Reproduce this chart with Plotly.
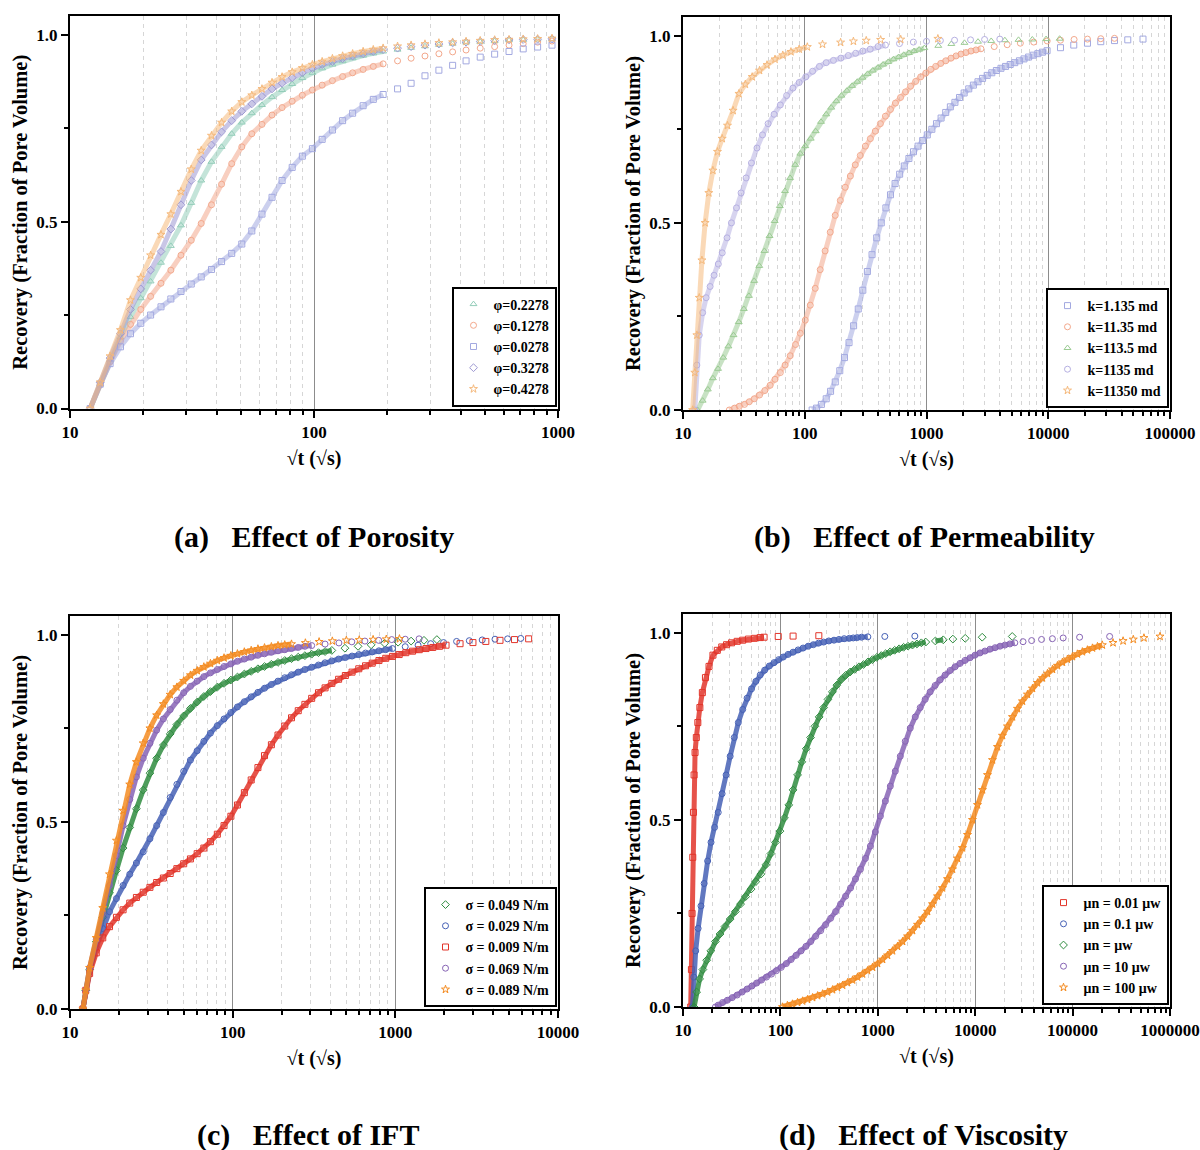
import math
import plotly.graph_objects as go

FONT = "Liberation Serif"
W, H = 1200, 1150

# ---------------- (a) Effect of Porosity ----------------
A_SQRT_T = [12.1, 13.3, 14.6, 16.1, 17.7, 19.5, 21.4, 23.6, 25.9, 28.5, 31.4, 34.5, 38.0, 41.8, 46.0,
            50.6, 55.6, 61.2, 67.3, 74.0, 81.4, 89.6, 98.5, 108, 119, 131, 144, 159, 175, 192,
            220, 250, 285, 325, 370, 420, 480, 550, 630, 720, 825, 945]
A_PHI_2278 = [0, 0.065, 0.13, 0.19, 0.245, 0.295, 0.34, 0.39, 0.435, 0.49, 0.55, 0.61, 0.66, 0.70, 0.735,
              0.765, 0.79, 0.812, 0.833, 0.852, 0.868, 0.884, 0.898, 0.91, 0.92, 0.929, 0.937, 0.944, 0.95, 0.955,
              0.96, 0.965, 0.969, 0.973, 0.976, 0.979, 0.981, 0.983, 0.985, 0.986, 0.987, 0.988]
A_PHI_1278 = [0, 0.065, 0.125, 0.18, 0.225, 0.265, 0.30, 0.335, 0.37, 0.41, 0.45, 0.495, 0.545, 0.60, 0.655,
              0.70, 0.735, 0.76, 0.785, 0.805, 0.822, 0.838, 0.852, 0.865, 0.877, 0.888, 0.898, 0.907, 0.915, 0.922,
              0.93, 0.937, 0.943, 0.949, 0.954, 0.959, 0.964, 0.968, 0.972, 0.976, 0.98, 0.983]
A_PHI_0278 = [0, 0.065, 0.12, 0.165, 0.20, 0.228, 0.25, 0.272, 0.293, 0.313, 0.333, 0.352, 0.372, 0.393, 0.415,
              0.44, 0.475, 0.52, 0.565, 0.61, 0.645, 0.675, 0.695, 0.72, 0.745, 0.77, 0.79, 0.81, 0.827, 0.84,
              0.855, 0.87, 0.89, 0.905, 0.918, 0.93, 0.94, 0.948, 0.955, 0.962, 0.967, 0.972]
A_PHI_3278 = [0, 0.07, 0.135, 0.2, 0.265, 0.32, 0.37, 0.42, 0.48, 0.545, 0.61, 0.665, 0.705, 0.74, 0.77,
              0.795, 0.815, 0.835, 0.855, 0.87, 0.885, 0.898, 0.91, 0.92, 0.928, 0.936, 0.943, 0.949, 0.955, 0.96,
              0.964, 0.968, 0.972, 0.975, 0.978, 0.98, 0.982, 0.984, 0.986, 0.987, 0.988, 0.989]
A_PHI_4278 = [0, 0.07, 0.14, 0.21, 0.29, 0.35, 0.41, 0.465, 0.52, 0.58, 0.64, 0.69, 0.73, 0.765, 0.795,
              0.82, 0.838, 0.855, 0.872, 0.887, 0.9, 0.911, 0.92, 0.928, 0.936, 0.943, 0.949, 0.955, 0.96, 0.964,
              0.969, 0.972, 0.975, 0.978, 0.98, 0.982, 0.984, 0.986, 0.987, 0.988, 0.989, 0.99]

# ---------------- (b) Effect of Permeability ----------------
B_K1_X = [115, 125, 137, 150, 163, 178, 194, 212, 231, 252, 275, 300, 327, 357, 390, 425, 464, 506, 552, 602,
          657, 717, 782, 853, 930, 1015, 1107, 1208, 1318, 1438, 1570, 1712, 1868, 2038, 2224, 2426, 2647, 2888,
          3151, 3438, 3750, 4090, 4460, 4870, 5310, 5800, 6320, 6900, 7530, 8210, 8960, 9780,
          12600, 16200, 21000, 27000, 35000, 45000, 60000]
B_K1_Y = [0, 0.005, 0.015, 0.03, 0.05, 0.075, 0.105, 0.14, 0.18, 0.225, 0.27, 0.32, 0.37, 0.415, 0.46, 0.5,
          0.54, 0.575, 0.605, 0.63, 0.652, 0.672, 0.69, 0.705, 0.72, 0.735, 0.75, 0.765, 0.78, 0.795, 0.81, 0.822,
          0.835, 0.847, 0.858, 0.868, 0.877, 0.886, 0.894, 0.901, 0.907, 0.913, 0.918, 0.923, 0.928, 0.933, 0.938,
          0.943, 0.948, 0.952, 0.956, 0.96,
          0.968, 0.975, 0.98, 0.984, 0.987, 0.989, 0.991]
B_K11_X = [24, 26.5, 29, 32, 35, 38.5, 42.5, 47, 52, 57, 63, 69, 76, 84, 92, 101, 111, 122, 134, 147,
           162, 178, 196, 215, 237, 260, 286, 315, 346, 380, 418, 460, 506, 556, 612, 673, 740, 815, 896, 986,
           1085, 1190, 1310, 1440, 1590, 1750, 1920, 2110, 2320, 2550, 2800,
           3600, 4600, 5900, 7600, 9800, 12600, 16300, 21000, 27000, 35000]
B_K11_Y = [0, 0.005, 0.01, 0.015, 0.022, 0.03, 0.04, 0.052, 0.066, 0.082, 0.1, 0.12, 0.145, 0.175, 0.205,
           0.24, 0.28, 0.325, 0.375, 0.425, 0.475, 0.52, 0.56, 0.595, 0.625, 0.655, 0.68, 0.705, 0.725, 0.745,
           0.765, 0.785, 0.803, 0.82, 0.835, 0.85, 0.865, 0.878, 0.89, 0.9, 0.91, 0.918, 0.926, 0.933, 0.94,
           0.946, 0.951, 0.955, 0.959, 0.962, 0.965,
           0.971, 0.976, 0.98, 0.983, 0.986, 0.988, 0.99, 0.991, 0.992, 0.993]
B_K113_X = [13.2, 14.5, 16, 17.6, 19.4, 21.4, 23.6, 26, 28.7, 31.6, 34.8, 38.4, 42.3, 46.6, 51.4, 56.6, 62.4,
            68.8, 75.8, 83.5, 92, 101, 112, 123, 136, 150, 165, 182, 200, 222, 245, 270, 298, 328, 362, 400,
            440, 485, 535, 590, 650, 717, 790, 870, 960,
            1250, 1600, 2050, 2650, 3400, 4400, 5700, 7400, 9600, 12400]
B_K113_Y = [0, 0.025, 0.055, 0.085, 0.11, 0.14, 0.17, 0.2, 0.235, 0.27, 0.305, 0.345, 0.385, 0.425, 0.465,
            0.505, 0.545, 0.585, 0.62, 0.655, 0.685, 0.705, 0.725, 0.745, 0.77, 0.79, 0.808, 0.825, 0.84, 0.853,
            0.866, 0.877, 0.888, 0.898, 0.907, 0.915, 0.923, 0.93, 0.937, 0.943, 0.949, 0.954, 0.959, 0.963, 0.967,
            0.973, 0.978, 0.981, 0.984, 0.986, 0.988, 0.989, 0.99, 0.991, 0.992]
B_K1135_X = [12.5, 13, 13.6, 14.5, 15.5, 16.7, 18, 19.5, 21, 23, 25, 27.5, 30, 33, 36.5, 40.5, 45, 50, 56, 63,
             71, 80, 90, 102, 116, 132, 150, 172, 198, 228, 262, 300, 345, 400, 460,
             600, 780, 1000, 1300, 1700, 2300, 3000, 4000]
B_K1135_Y = [0, 0.12, 0.2, 0.26, 0.3, 0.33, 0.36, 0.39, 0.42, 0.46, 0.5, 0.54, 0.58, 0.62, 0.66, 0.70, 0.735,
             0.765, 0.79, 0.815, 0.84, 0.86, 0.875, 0.89, 0.905, 0.918, 0.928, 0.934, 0.94, 0.947, 0.953, 0.959,
             0.964, 0.971, 0.975,
             0.979, 0.983, 0.985, 0.987, 0.988, 0.989, 0.99, 0.991]
B_K11350_X = [12.0, 12.5, 13.0, 13.6, 14.3, 15.2, 16.3, 17.6, 19.2, 21, 23.2, 25.8, 28.8, 32.5, 37, 42.5, 49,
              57, 66, 77, 90, 105,
              140, 197, 251, 320, 420, 614, 1240]
B_K11350_Y = [0, 0.1, 0.2, 0.3, 0.4, 0.5, 0.58, 0.64, 0.69, 0.725, 0.76, 0.8, 0.845, 0.87, 0.89, 0.907, 0.922,
              0.937, 0.948, 0.957, 0.964, 0.97,
              0.977, 0.982, 0.985, 0.987, 0.989, 0.99, 0.992]

# ---------------- (c) Effect of IFT ----------------
C_S049_X = [12, 12.5, 13.2, 14.5, 15.9, 17.5, 19.3, 21.2, 23.3, 25.6, 28.2, 31, 34.1, 37.5, 41.3, 45.4, 50, 55,
            60.5, 66.5, 73, 80.5, 88.5, 97.5, 107, 118, 130, 143, 157, 173, 190, 209, 230, 253, 278, 306, 337,
            370, 407,
            490, 590, 710, 860, 1040, 1250, 1500, 1800]
C_S049_Y = [0, 0.05, 0.105, 0.18, 0.245, 0.31, 0.37, 0.43, 0.485, 0.535, 0.585, 0.63, 0.67, 0.705, 0.735, 0.76,
            0.783, 0.803, 0.82, 0.835, 0.848, 0.86, 0.87, 0.879, 0.887, 0.895, 0.902, 0.909, 0.915, 0.921, 0.926,
            0.931, 0.936, 0.94, 0.944, 0.948, 0.952, 0.955, 0.958,
            0.964, 0.969, 0.973, 0.977, 0.98, 0.983, 0.985, 0.987]
C_S029_X = [12, 12.5, 13.2, 14.5, 15.9, 17.5, 19.3, 21.2, 23.3, 25.6, 28.2, 31, 34.1, 37.5, 41.3, 45.4, 50, 55,
            60.5, 66.5, 73, 80.5, 88.5, 97.5, 107, 118, 130, 143, 157, 173, 190, 209, 230, 253, 278, 306, 337,
            370, 407, 448, 493, 542, 596, 656, 721, 793, 873, 960,
            1150, 1380, 1650, 1980, 2380, 2850, 3420, 4100, 4900, 5900]
C_S029_Y = [0, 0.05, 0.1, 0.165, 0.215, 0.26, 0.295, 0.33, 0.36, 0.39, 0.42, 0.455, 0.49, 0.525, 0.565, 0.6,
            0.635, 0.665, 0.69, 0.715, 0.737, 0.757, 0.775, 0.792, 0.807, 0.821, 0.834, 0.846, 0.857, 0.867, 0.876,
            0.885, 0.893, 0.9, 0.907, 0.913, 0.919, 0.925, 0.93, 0.935, 0.939, 0.943, 0.947, 0.951, 0.954, 0.957,
            0.96, 0.963,
            0.968, 0.972, 0.976, 0.979, 0.982, 0.984, 0.986, 0.988, 0.989, 0.99]
C_S009_X = [12, 12.5, 13.2, 14.5, 15.9, 17.5, 19.3, 21.2, 23.3, 25.6, 28.2, 31, 34.1, 37.5, 41.3, 45.4, 50, 55,
            60.5, 66.5, 73, 80.5, 88.5, 97.5, 107, 118, 130, 143, 157, 173, 190, 209, 230, 253, 278, 306, 337,
            370, 407, 448, 493, 542, 596, 656, 721, 793, 873, 960, 1056, 1160, 1276, 1404, 1544, 1700, 1870, 2050,
            2500, 3000, 3600, 4400, 5400, 6600]
C_S009_Y = [0, 0.05, 0.095, 0.15, 0.19, 0.22, 0.245, 0.265, 0.283, 0.298, 0.312, 0.325, 0.338, 0.35, 0.362,
            0.375, 0.388, 0.401, 0.415, 0.43, 0.447, 0.467, 0.49, 0.515, 0.545, 0.578, 0.612, 0.645, 0.677, 0.706,
            0.732, 0.756, 0.778, 0.797, 0.814, 0.83, 0.845, 0.858, 0.87, 0.881, 0.891, 0.9, 0.909, 0.917, 0.924,
            0.931, 0.937, 0.942, 0.947, 0.952, 0.956, 0.96, 0.963, 0.966, 0.969, 0.972,
            0.976, 0.979, 0.982, 0.985, 0.987, 0.989]
C_S069_X = [12, 12.5, 13.2, 14.5, 15.9, 17.5, 19.3, 21.2, 23.3, 25.6, 28.2, 31, 34.1, 37.5, 41.3, 45.4, 50, 55,
            60.5, 66.5, 73, 80.5, 88.5, 97.5, 107, 118, 130, 143, 157, 173, 190, 209, 230, 253, 278, 306,
            370, 450, 540, 650, 790, 950, 1150, 1400]
C_S069_Y = [0, 0.05, 0.11, 0.185, 0.255, 0.33, 0.41, 0.49, 0.56, 0.62, 0.67, 0.71, 0.745, 0.775, 0.8, 0.825,
            0.845, 0.862, 0.876, 0.888, 0.898, 0.907, 0.915, 0.922, 0.929, 0.935, 0.94, 0.945, 0.949, 0.953, 0.957,
            0.96, 0.963, 0.966, 0.969, 0.971,
            0.975, 0.978, 0.981, 0.983, 0.985, 0.987, 0.988, 0.989]
C_S089_X = [12, 12.5, 13.2, 14.5, 15.9, 17.5, 19.3, 21.2, 23.3, 25.6, 28.2, 31, 34.1, 37.5, 41.3, 45.4, 50, 55,
            60.5, 66.5, 73, 80.5, 88.5, 97.5, 107, 118, 130, 143, 157, 173, 190, 209, 230,
            280, 340, 410, 500, 600, 730, 880, 1060]
C_S089_Y = [0, 0.05, 0.11, 0.19, 0.27, 0.36, 0.45, 0.53, 0.6, 0.66, 0.71, 0.75, 0.785, 0.815, 0.84, 0.86,
            0.877, 0.892, 0.904, 0.914, 0.923, 0.931, 0.938, 0.944, 0.949, 0.954, 0.958, 0.962, 0.965, 0.968,
            0.971, 0.973, 0.975,
            0.978, 0.981, 0.983, 0.985, 0.986, 0.987, 0.988, 0.989]

# ---------------- (d) Effect of Viscosity ----------------
D_M001_X = [12, 12.2, 12.4, 12.6, 12.8, 13.0, 13.3, 13.7, 14.2, 14.9, 15.8, 17, 18.5, 20.3, 22.5, 25, 28, 31.5,
            36, 41, 47, 54, 62, 68,
            95, 135, 248]
D_M001_Y = [0, 0.1, 0.25, 0.4, 0.52, 0.62, 0.68, 0.72, 0.76, 0.8, 0.84, 0.88, 0.91, 0.94, 0.953, 0.962, 0.968,
            0.973, 0.977, 0.98, 0.983, 0.985, 0.987, 0.988,
            0.99, 0.991, 0.992]
D_M01_X = [12.5, 12.9, 13.5, 14.3, 15.3, 16.5, 17.9, 19.4, 21.1, 23, 25.2, 27.7, 30.5, 33.6, 37, 41, 45.5, 50.5,
           56, 62, 69, 77, 86, 96, 107, 120, 135, 152, 171, 193, 218, 246, 278, 314, 355, 400, 452, 510, 560,
           615, 680, 790,
           1180, 2400]
D_M01_Y = [0, 0.08, 0.15, 0.21, 0.27, 0.33, 0.39, 0.44, 0.48, 0.52, 0.57, 0.62, 0.67, 0.72, 0.76, 0.795, 0.825,
           0.85, 0.87, 0.887, 0.9, 0.911, 0.92, 0.928, 0.935, 0.942, 0.948, 0.954, 0.959, 0.964, 0.968, 0.972,
           0.975, 0.978, 0.98, 0.982, 0.984, 0.985, 0.986, 0.987, 0.988, 0.989,
           0.99, 0.991]
D_M1_X = [13, 13.8, 14.8, 16, 17.5, 19.3, 21.5, 24, 27, 30.5, 34.5, 39, 44, 50, 56, 63, 71, 80, 89, 99, 110,
          122, 135, 150, 166, 184, 204, 226, 250, 278, 308, 342, 380, 422, 468, 520, 578, 642, 713, 792, 880, 977,
          1085, 1205, 1340, 1490, 1655, 1840, 2045, 2270, 2520, 2800, 3110,
          3900, 4700, 5900, 7900, 11800, 24000]
D_M1_Y = [0, 0.04, 0.075, 0.1, 0.125, 0.15, 0.175, 0.195, 0.215, 0.235, 0.255, 0.275, 0.295, 0.315, 0.335,
          0.355, 0.38, 0.41, 0.44, 0.47, 0.505, 0.54, 0.58, 0.62, 0.655, 0.69, 0.72, 0.75, 0.775, 0.8, 0.822,
          0.842, 0.86, 0.875, 0.886, 0.895, 0.902, 0.909, 0.915, 0.922, 0.928, 0.934, 0.939, 0.944, 0.949, 0.953,
          0.957, 0.961, 0.964, 0.967, 0.97, 0.973, 0.975,
          0.978, 0.981, 0.983, 0.985, 0.988, 0.99]
D_M10_X = [21.5, 23, 25.5, 28.5, 32, 36, 40.5, 45.5, 51, 57, 64, 72, 81, 91, 102, 115, 129, 145, 163, 183, 205,
           230, 259, 291, 328, 369, 415, 467, 525, 590, 664, 747, 840, 945, 1063, 1196, 1345, 1513, 1702, 1915,
           2154, 2423, 2726, 3066, 3450, 3880, 4366, 4911, 5525, 6215, 6992, 7866, 8849, 9955, 11200, 12600,
           14200, 16000, 18000, 20200, 22700, 25500,
           31000, 38000, 48000, 62000, 80000, 118000, 240000]
D_M10_Y = [0, 0.005, 0.012, 0.018, 0.025, 0.032, 0.04, 0.048, 0.056, 0.064, 0.072, 0.08, 0.088, 0.097, 0.106,
           0.116, 0.127, 0.138, 0.15, 0.162, 0.175, 0.189, 0.204, 0.22, 0.237, 0.255, 0.275, 0.296, 0.318, 0.342,
           0.368, 0.397, 0.43, 0.468, 0.51, 0.55, 0.59, 0.63, 0.67, 0.71, 0.745, 0.775, 0.8, 0.822, 0.842, 0.859,
           0.874, 0.887, 0.899, 0.909, 0.918, 0.926, 0.933, 0.94, 0.946, 0.951, 0.956, 0.96, 0.964, 0.967, 0.97,
           0.973,
           0.976, 0.979, 0.982, 0.984, 0.986, 0.988, 0.99]
D_M100_X = [105, 118, 133, 150, 169, 190, 214, 241, 271, 305, 343, 386, 435, 489, 551, 620, 697, 785, 883, 994,
            1119, 1259, 1417, 1595, 1795, 2020, 2273, 2558, 2879, 3240, 3646, 4103, 4617, 5196, 5848, 6581, 7406,
            8335, 9380, 10556, 11880, 13370, 15046, 16933, 19056, 21446, 24135, 27161, 30566, 34400, 38700, 43600,
            49000, 55200, 62100, 69900, 78600, 88500, 99600, 112000, 126000, 142000, 160000, 180000, 202000,
            260000, 330000, 420000, 540000, 790000]
D_M100_Y = [0, 0.004, 0.008, 0.012, 0.016, 0.02, 0.025, 0.03, 0.035, 0.04, 0.046, 0.052, 0.058, 0.065, 0.072,
            0.08, 0.088, 0.097, 0.106, 0.116, 0.127, 0.138, 0.15, 0.162, 0.175, 0.189, 0.204, 0.22, 0.237, 0.255,
            0.275, 0.296, 0.318, 0.342, 0.368, 0.397, 0.425, 0.46, 0.5, 0.54, 0.58, 0.62, 0.66, 0.695, 0.725, 0.75,
            0.775, 0.797, 0.817, 0.835, 0.851, 0.866, 0.879, 0.891, 0.902, 0.912, 0.921, 0.929, 0.936, 0.943,
            0.949, 0.954, 0.959, 0.963, 0.967,
            0.973, 0.978, 0.982, 0.986, 0.99]

# ---------------- layout geometry (pixels in the 1200x1150 page) ----------------
# left, right, top, bottom of each plotting area, decades shown on x
PANELS = {
    "a": dict(box=(70, 558, 16, 408.5), dec=(1, 3), ax="", legend="legend"),
    "b": dict(box=(683, 1170, 17, 410), dec=(1, 5), ax="2", legend="legend2"),
    "c": dict(box=(70, 558, 616, 1009), dec=(1, 4), ax="3", legend="legend3"),
    "d": dict(box=(683, 1170, 614, 1007), dec=(1, 6), ax="4", legend="legend4"),
}
Y_TOP = 1.05
GAP_PX = {"a": 12, "b": 12, "c": 12, "d": 8}

# pastel palette for (a)/(b), saturated palette for (c)/(d)
P_ORANGE, P_PURPLE, P_TEAL, P_SALMON, P_BLUE = "#f5b97c", "#9d98d2", "#93cdb9", "#f3a88c", "#a3a9e0"
P_GREEN, P_LAV = "#9bcb93", "#b6b0e2"
S_RED, S_BLUE, S_GREEN, S_PURPLE, S_ORANGE = "#e2352a", "#4560b5", "#2f8c3f", "#8764b5", "#f48c22"

fig = go.Figure()


def px_per_decade(key):
    p = PANELS[key]
    return (p["box"][1] - p["box"][0]) / (p["dec"][1] - p["dec"][0])


def rgba(hex_color, a):
    h = hex_color.lstrip("#")
    r, g, b = int(h[0:2], 16), int(h[2:4], 16), int(h[4:6], 16)
    return f"rgba({r},{g},{b},{a})"


def add_series(key, xs, ys, name, color, symbol, band_alpha):
    assert len(xs) == len(ys), name
    p = PANELS[key]
    xa, ya = "x" + p["ax"], "y" + p["ax"]
    ppd = px_per_decade(key)
    # densely sampled stretches merge into a continuous band; sparse late samples stay separate
    bx, by = [], []
    for i, (x, y) in enumerate(zip(xs, ys)):
        if i and (math.log10(x) - math.log10(xs[i - 1])) * ppd > GAP_PX[key]:
            bx.append(None)
            by.append(None)
        bx.append(x)
        by.append(y)
    fig.add_trace(go.Scatter(x=bx, y=by, mode="lines", xaxis=xa, yaxis=ya,
                             line=dict(color=rgba(color, band_alpha), width=5),
                             showlegend=False, hoverinfo="skip", connectgaps=False))
    fig.add_trace(go.Scatter(x=xs, y=ys, mode="markers", xaxis=xa, yaxis=ya, name=name,
                             legend=p["legend"],
                             marker=dict(symbol=symbol, size=6, color=color, line=dict(width=1))))


# (a)
add_series("a", A_SQRT_T, A_PHI_2278, "φ=0.2278", P_TEAL, "triangle-up-open", 0.55)
add_series("a", A_SQRT_T, A_PHI_1278, "φ=0.1278", P_SALMON, "circle-open", 0.55)
add_series("a", A_SQRT_T, A_PHI_0278, "φ=0.0278", P_BLUE, "square-open", 0.55)
add_series("a", A_SQRT_T, A_PHI_3278, "φ=0.3278", P_PURPLE, "diamond-open", 0.55)
add_series("a", A_SQRT_T, A_PHI_4278, "φ=0.4278", P_ORANGE, "star-open", 0.55)
# (b)
add_series("b", B_K1_X, B_K1_Y, "k=1.135 md", P_BLUE, "square-open", 0.55)
add_series("b", B_K11_X, B_K11_Y, "k=11.35 md", P_SALMON, "circle-open", 0.55)
add_series("b", B_K113_X, B_K113_Y, "k=113.5 md", P_GREEN, "triangle-up-open", 0.55)
add_series("b", B_K1135_X, B_K1135_Y, "k=1135 md", P_LAV, "circle-open", 0.55)
add_series("b", B_K11350_X, B_K11350_Y, "k=11350 md", P_ORANGE, "star-open", 0.55)
# (c)
add_series("c", C_S049_X, C_S049_Y, "σ = 0.049 N/m", S_GREEN, "diamond-open", 0.85)
add_series("c", C_S029_X, C_S029_Y, "σ = 0.029 N/m", S_BLUE, "circle-open", 0.85)
add_series("c", C_S009_X, C_S009_Y, "σ = 0.009 N/m", S_RED, "square-open", 0.85)
add_series("c", C_S069_X, C_S069_Y, "σ = 0.069 N/m", S_PURPLE, "circle-open", 0.85)
add_series("c", C_S089_X, C_S089_Y, "σ = 0.089 N/m", S_ORANGE, "star-open", 0.85)
# (d)
add_series("d", D_M001_X, D_M001_Y, "μn = 0.01 μw", S_RED, "square-open", 0.85)
add_series("d", D_M01_X, D_M01_Y, "μn = 0.1 μw", S_BLUE, "circle-open", 0.85)
add_series("d", D_M1_X, D_M1_Y, "μn = μw", S_GREEN, "diamond-open", 0.85)
add_series("d", D_M10_X, D_M10_Y, "μn = 10 μw", S_PURPLE, "circle-open", 0.85)
add_series("d", D_M100_X, D_M100_Y, "μn = 100 μw", S_ORANGE, "star-open", 0.85)

BOLD = dict(family=FONT, color="black", weight="bold")
layout = dict(width=W, height=H, margin=dict(l=0, r=0, t=0, b=0, autoexpand=False),
              paper_bgcolor="white", plot_bgcolor="white", showlegend=True)

for key, p in PANELS.items():
    l, r, t, b = p["box"]
    d0, d1 = p["dec"]
    majors = [10 ** k for k in range(d0, d1 + 1)]
    minors = [m * 10 ** k for k in range(d0, d1) for m in range(2, 10)]
    layout["xaxis" + p["ax"]] = dict(
        type="log", range=[d0, d1], domain=[l / W, r / W], anchor="y" + p["ax"], automargin=False,
        tickmode="array", tickvals=majors, ticktext=[str(v) for v in majors],
        ticks="outside", ticklen=7, tickwidth=2, tickcolor="black",
        showline=True, linewidth=2, linecolor="black", mirror=True,
        showgrid=True, gridcolor="#8c8c8c", gridwidth=1.2, zeroline=False,
        minor=dict(tickmode="array", tickvals=minors, ticks="outside", ticklen=4, tickwidth=1.5,
                   tickcolor="black", showgrid=True, gridcolor="#d6d6d6", griddash="4px,4px", gridwidth=1),
        tickfont=dict(size=17, **BOLD),
        title=dict(text="√t (√s)", font=dict(size=20, **BOLD), standoff=10),
    )
    layout["yaxis" + p["ax"]] = dict(
        range=[0, Y_TOP], domain=[(H - b) / H, (H - t) / H], anchor="x" + p["ax"], automargin=False,
        tickmode="array", tickvals=[0, 0.5, 1.0], ticktext=["0.0", "0.5", "1.0"],
        ticks="outside", ticklen=7, tickwidth=2, tickcolor="black",
        minor=dict(tickmode="array", tickvals=[0.25, 0.75], ticks="outside", ticklen=4, tickwidth=1.5,
                   tickcolor="black"),
        showline=True, linewidth=2, linecolor="black", mirror=True,
        showgrid=False, zeroline=False,
        tickfont=dict(size=17, **BOLD),
        title=dict(text="Recovery (Fraction of Pore Volume)", font=dict(size=20.5, **BOLD), standoff=3),
    )
    layout[p["legend"]] = dict(
        x=(r - 1.5) / W, y=(H - b + 2) / H, xanchor="right", yanchor="bottom",
        bgcolor="white", bordercolor="black", borderwidth=2,
        font=dict(size=14, **BOLD), itemwidth=30, tracegroupgap=0,
    )

TITLES = [("(a)", "Effect of Porosity", 314, 537), ("(b)", "Effect of Permeability", 924, 537),
          ("(c)", "Effect of IFT", 308, 1135), ("(d)", "Effect of Viscosity", 923, 1135)]
layout["annotations"] = [
    dict(text=f"{tag}\u00a0\u00a0\u00a0{txt}", x=cx / W, y=(H - cy) / H, xref="paper", yref="paper",
         xanchor="center", yanchor="middle", showarrow=False, font=dict(size=30, **BOLD))
    for tag, txt, cx, cy in TITLES
]

fig.update_layout(**layout)
fig.write_html("out.html")
